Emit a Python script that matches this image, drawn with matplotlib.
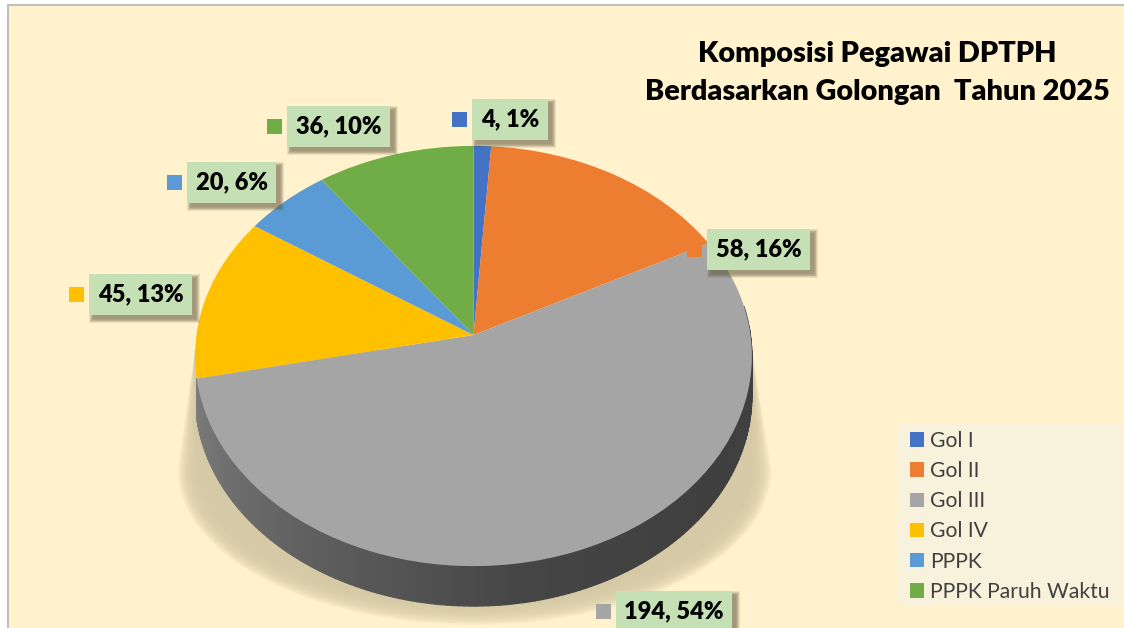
import numpy as np
import matplotlib
matplotlib.use('Agg')
import matplotlib.pyplot as plt
from matplotlib.collections import PolyCollection
from matplotlib.colors import LinearSegmentedColormap
from matplotlib.patches import Rectangle
from matplotlib.transforms import Transform

categories = ['Gol I', 'Gol II', 'Gol III', 'Gol IV', 'PPPK', 'PPPK Paruh Waktu']
values = [4, 58, 194, 45, 20, 36]
colors = ['#4472C4', '#ED7D31', '#A5A5A5', '#FFC000', '#5B9BD5', '#70AD47']
title = 'Komposisi Pegawai DPTPH\nBerdasarkan Golongan  Tahun 2025'

#label boxes in pixels: left, top, right, bottom
boxes = [(472, 99, 548, 140), (707, 229, 810, 270), (616, 591, 732, 632),
         (89, 274, 192, 315), (187, 162, 276, 203), (287, 106, 390, 147)]

plt.rcParams['font.family'] = ['Lato', 'DejaVu Sans']

#tilted pie: apex in pixels, axes of the disc and perspective strength
CX, CY = 473.5, 335
A, B, K = 277, 208, 0.1
DEPTH = 40


class PieView(Transform):
    input_dims = 2
    output_dims = 2

    def transform_non_affine(self, v):
        x, y = np.asarray(v).T
        w = 1 + K*y
        return np.column_stack([CX + A*x/w, CY - B*y/w])


def soft_rect(ax, x0, y0, x1, y1, color, n=6, grow=4, alpha=0.12, z=5):
    for g in np.linspace(grow, 0, n):
        ax.add_patch(Rectangle((x0-g, y0-g), x1-x0+2*g, y1-y0+2*g, fc=color, ec='none', alpha=alpha, zorder=z))


fig = plt.figure(figsize=(11.24, 6.28), dpi=100, facecolor='white')
ax = fig.add_axes([0, 0, 1, 1])

wedges, _ = ax.pie(values, colors=colors, startangle=90, counterclock=False)
view = PieView() + ax.transData
for w in wedges:
    w.set_transform(view)
    w.set_zorder(4)
    w.set_linewidth(0)

ax.set_aspect('auto')
ax.set_xlim(0, 1124)
ax.set_ylim(628, 0)

#chart area
ax.add_patch(Rectangle((8, 5), 1130, 640, fc='#FFF2CC', ec='#BFBFBF', lw=1.5, zorder=0))

#soft shadow under the pie
for g in np.linspace(20, 0, 14):
    t = np.radians(np.linspace(180, 360, 90))
    sx = 474.5 + (297-g)*np.cos(t)
    sy = 470 - (155-g)*np.sin(t)
    ax.fill(np.r_[195, sx, 752], np.r_[350, sy, 350], color='#D4C9A4', alpha=0.16, lw=0, zorder=1)

#side wall of the disc, Gol III only
ends = 90 - 360*np.cumsum(values)/sum(values)
t = np.radians(np.linspace(ends[2], 8, 160))
rim = PieView().transform_non_affine(np.column_stack([np.cos(t), np.sin(t)]))
quads = [[rim[i], rim[i+1], rim[i+1]+[0, DEPTH], rim[i]+[0, DEPTH]] for i in range(len(rim)-1)]
wall = LinearSegmentedColormap.from_list('wall', ['#7C7C7C', '#606060', '#454545', '#3F3F3F', '#414141'])
ax.add_collection(PolyCollection(quads, facecolors=wall(np.linspace(0, 1, len(quads))),
                                 edgecolors='face', linewidths=0.8, zorder=3))

#data labels
for v, c, (x0, y0, x1, y1) in zip(values, colors, boxes):
    soft_rect(ax, x0+4, y0+4, x1+4, y1+4, '#5A5238')
    ax.add_patch(Rectangle((x0, y0), x1-x0, y1-y0, fc='#C5E0B4', ec='none', zorder=6))
    ax.add_patch(Rectangle((x0-20, y0+13), 15, 15, fc=c, ec='none', zorder=6))
    pct = round(100*v/sum(values))
    ax.text((x0+x1)/2, y0+20.5, f'{v}, {pct}%', ha='center', va='center', fontsize=17,
            fontweight='heavy', color='black', zorder=7)

ax.text(877, 73, title, ha='center', va='center', fontsize=20.8, fontweight='heavy',
        color='black', linespacing=1.56, zorder=7)

#legend panel, entries sit on top of it
ax.add_patch(Rectangle((898, 424), 224, 182, fc='#F8F1DC', ec='none', zorder=5))
leg = ax.legend(wedges, categories, loc='upper left', bbox_to_anchor=(910, 431), bbox_transform=ax.transData,
                borderaxespad=0, fontsize=15.2, frameon=False, handlelength=0.68, handleheight=0.68,
                handletextpad=0.27, labelspacing=0.48, borderpad=0, labelcolor='#404040')
leg.set_zorder(6)

fig.savefig('out.png', dpi=100)
